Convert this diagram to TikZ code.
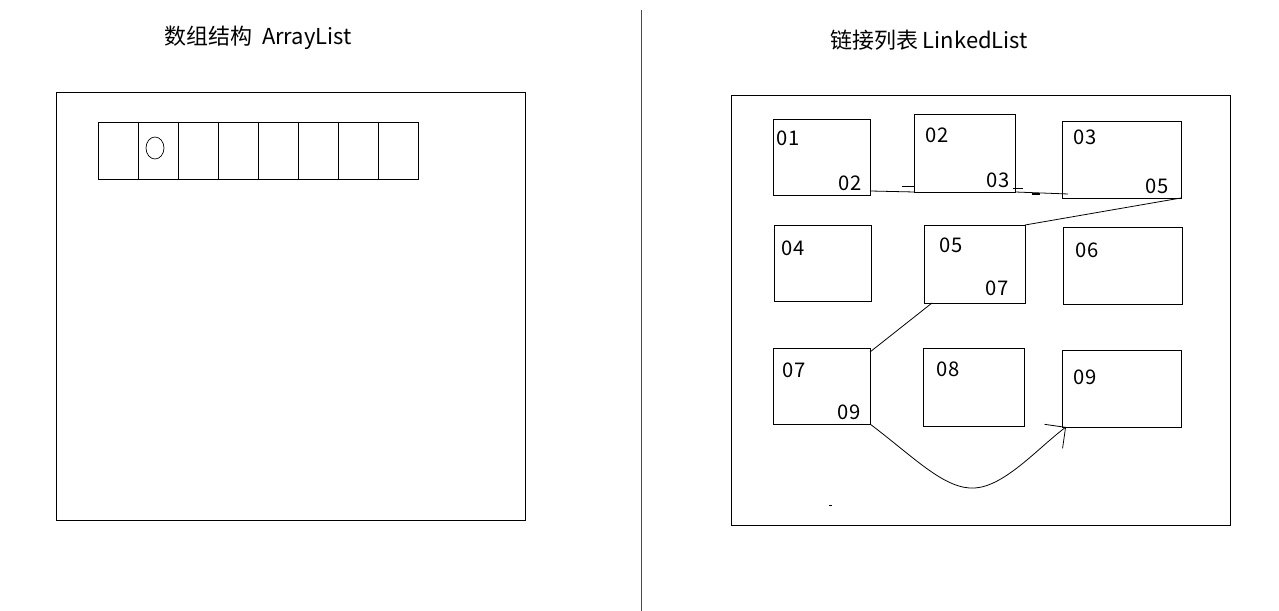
\documentclass[tikz,border=0pt]{standalone}
\usepackage{fontspec}
\setmainfont{Noto Sans CJK SC}
\usetikzlibrary{arrows.meta,shapes.geometric}
\tikzset{
  cell/.style={draw, minimum width=0.8cm, minimum height=1.14cm, inner sep=0pt, outer sep=0pt},
  colA/.style={draw, minimum width=1.94cm, minimum height=1.52cm, inner sep=0pt, outer sep=0pt},
  colB/.style={draw, minimum width=2.02cm, minimum height=1.56cm, inner sep=0pt, outer sep=0pt},
  colC/.style={draw, minimum width=2.38cm, minimum height=1.54cm, inner sep=0pt, outer sep=0pt},
  num/.style={inner sep=0pt, font=\fontsize{11.5}{13}\selectfont},
  title/.style={inner sep=0pt, font=\fontsize{12.5}{14}\selectfont}
}

\begin{document}
\begin{tikzpicture}[x=0.02cm, y=-0.02cm, line width=0.45pt]
 \useasboundingbox (0,0) rectangle (1279,611);
 \draw[black!70] (641,10) -- (641,611);

 % array side
 \node[title] (arrtitle) at (258,38) {数组结构\ \ ArrayList};
 \node[draw, minimum width=9.38cm, minimum height=8.56cm, inner sep=0pt] (arrframe) at (290.5,306) {};
 \foreach \i in {0,...,7}
   \node[cell] (c\i) at (118+40*\i,150.5) {};
 \node[draw, ellipse, minimum width=0.36cm, minimum height=0.44cm, inner sep=0pt, line width=0.4pt] (dot) at (155,148) {};

 % linked side
 \node[title] (lnktitle) at (929,40) {链接列表 LinkedList};
 \node[draw, minimum width=9.98cm, minimum height=8.6cm, inner sep=0pt] (lnkframe) at (980.5,310) {};

 \node[colA] (b01) at (821.5,157) {};
 \node[colB] (b02) at (964.5,153) {};
 \node[colC] (b03) at (1121.5,159.5) {};
 \node[colA] (b04) at (822.5,263) {};
 \node[colB] (b05) at (974.5,264) {};
 \node[colC] (b06) at (1122.5,265.5) {};
 \node[colA] (b07) at (821.5,386) {};
 \node[colB] (b08) at (973.5,387) {};
 \node[colC] (b09) at (1121.5,388.5) {};

 \node[num] (b01-in) at (788,138) {01};  \node[num] (b01-out) at (850,183) {02};
 \node[num] (b02-in) at (937,135) {02};  \node[num] (b02-out) at (998,180) {03};
 \node[num] (b03-in) at (1085,137) {03}; \node[num] (b03-out) at (1157,186) {05};
 \node[num] (b04-in) at (793,248) {04};
 \node[num] (b05-in) at (951,245) {05};  \node[num] (b05-out) at (997,288) {07};
 \node[num] (b06-in) at (1087,250) {06};
 \node[num] (b07-in) at (794,370) {07};  \node[num] (b07-out) at (849,412) {09};
 \node[num] (b08-in) at (948,369) {08};
 \node[num] (b09-in) at (1085,377) {09};

 % links
 \draw ([yshift=0.08cm]b01.south east) -- (b02.south west);
 \draw (b02.south east) -- ([xshift=0.12cm,yshift=0.08cm]b03.south west);
 \draw (b03.south east) -- (b05.north east);
 \draw ([xshift=0.16cm]b05.south west) -- ([yshift=-0.08cm]b07.north east);
 \draw[-{Straight Barb[length=0.3cm,width=0.6cm]}] (b07.south east)
   .. controls (915,458) and (945,490) .. (975,488)
   .. controls (1005,486) and (1038,448) .. ([xshift=0.08cm]b09.south west);

 % stray pen marks
 \draw (902,186) -- (915,186);
 \draw (1013,188) -- (1023,188);
 \draw[line width=0.9pt] (1032,194) -- (1040,194);
 \draw (829,505) -- (832,505);
\end{tikzpicture}
\end{document}
